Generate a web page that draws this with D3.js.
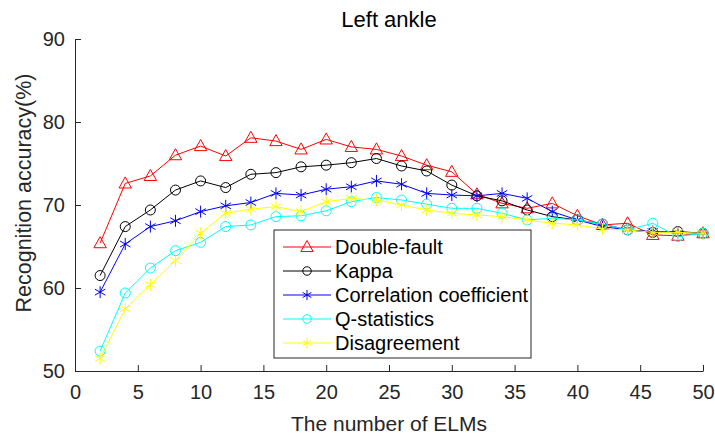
<!DOCTYPE html>
<html>
<head>
<meta charset="utf-8">
<script src="https://cdn.jsdelivr.net/npm/d3@7"></script>
<style>
  body { margin: 0; background: #fff; }
  text { font-family: "Liberation Sans", Arial, Helvetica, sans-serif; }
</style>
</head>
<body>
<script>
var width = 715;
var height = 439;
var margin = {left: 75, right: 12, top: 39, bottom: 68};

var elms = [2, 4, 6, 8, 10, 12, 14, 16, 18, 20, 22, 24, 26, 28, 30, 32, 34, 36, 38, 40, 42, 44, 46, 48, 50];
var doubleFault = [65.4, 72.6, 73.5, 76.0, 77.1, 75.9, 78.1, 77.7, 76.7, 77.9, 77.0, 76.7, 75.9, 74.8, 74.0, 71.3, 70.2, 69.6, 70.2, 68.7, 67.6, 67.8, 66.4, 66.3, 66.6];
var kappa = [61.5, 67.4, 69.4, 71.8, 72.9, 72.1, 73.7, 73.9, 74.6, 74.8, 75.1, 75.6, 74.7, 74.1, 72.4, 71.1, 70.5, 69.4, 68.6, 68.2, 67.7, 67.0, 66.7, 66.8, 66.6];
var correlation = [59.5, 65.3, 67.4, 68.1, 69.2, 69.9, 70.3, 71.4, 71.2, 71.9, 72.2, 72.9, 72.5, 71.4, 71.2, 71.1, 71.4, 70.8, 69.2, 68.2, 67.4, 67.0, 66.8, 66.7, 66.6];
var qStatistics = [52.4, 59.4, 62.4, 64.5, 65.5, 67.4, 67.6, 68.6, 68.7, 69.3, 70.4, 70.9, 70.6, 70.1, 69.6, 69.6, 69.0, 68.2, 68.4, 68.2, 67.7, 67.0, 67.8, 66.2, 66.6];
var disagreement = [51.5, 57.5, 60.4, 63.3, 66.6, 69.0, 69.5, 69.8, 69.2, 70.4, 70.8, 70.6, 70.0, 69.4, 69.0, 68.8, 68.6, 68.2, 67.8, 67.6, 67.1, 67.0, 66.7, 66.7, 66.6];

var seriesNames = ["Double-fault", "Kappa", "Correlation coefficient", "Q-statistics", "Disagreement"];
var seriesColors = ["#ff0000", "#000000", "#0000ff", "#00ffff", "#ffff00"];
var seriesMarkers = ["triangle", "circle", "asterisk", "circle", "asterisk"];
var seriesValues = [doubleFault, kappa, correlation, qStatistics, disagreement];

var xTicks = [0, 5, 10, 15, 20, 25, 30, 35, 40, 45, 50];
var yTicks = [50, 60, 70, 80, 90];

var axisColor = "#262626";

var svg = d3.select("body").append("svg")
	.attr("width", width)
	.attr("height", height);

var x = d3.scaleLinear().domain([0, 50]).range([margin.left, width - margin.right]);
var y = d3.scaleLinear().domain([50, 90]).range([height - margin.bottom, margin.top]);

// axes, ticks pointing inward like matlab
var xAxis = svg.append("g")
	.attr("transform", "translate(0," + y(50) + ")")
	.call(d3.axisBottom(x).tickValues(xTicks).tickSizeInner(-6).tickSizeOuter(0).tickPadding(14));
var yAxis = svg.append("g")
	.attr("transform", "translate(" + x(0) + ",0)")
	.call(d3.axisLeft(y).tickValues(yTicks).tickSizeInner(-6).tickSizeOuter(0).tickPadding(10));

[xAxis, yAxis].forEach(function(g) {
	g.select(".domain").attr("stroke", axisColor).attr("stroke-width", 1);
	g.selectAll(".tick line").attr("stroke", axisColor);
	g.selectAll(".tick text")
		.attr("fill", axisColor)
		.style("font-size", "20px")
		.style("font-family", "'Liberation Sans', Arial, sans-serif");
});

svg.append("text")
	.attr("x", (x(0) + x(50)) / 2)
	.attr("y", 27)
	.attr("text-anchor", "middle")
	.attr("fill", "#000")
	.style("font-size", "22px")
	.text("Left ankle");

svg.append("text")
	.attr("x", (x(0) + x(50)) / 2)
	.attr("y", 431)
	.attr("text-anchor", "middle")
	.attr("fill", axisColor)
	.style("font-size", "21px")
	.text("The number of ELMs");

svg.append("text")
	.attr("transform", "translate(31," + ((y(50) + y(90)) / 2 - 12) + ") rotate(-90)")
	.attr("text-anchor", "middle")
	.attr("fill", axisColor)
	.style("font-size", "21.5px")
	.text("Recognition accuracy(%)");

var drawMarker = function(g, type, color, cx, cy, s) {
	if (type == "triangle") {
		var r = 6.5 * s;
		g.append("path")
			.attr("d", "M" + cx + "," + (cy - r) + "L" + (cx + r * 0.95) + "," + (cy + r * 0.7) + "L" + (cx - r * 0.95) + "," + (cy + r * 0.7) + "Z")
			.attr("fill", "none").attr("stroke", color).attr("stroke-width", 1);
	} else if (type == "circle") {
		g.append("circle")
			.attr("cx", cx).attr("cy", cy).attr("r", 5 * s)
			.attr("fill", "none").attr("stroke", color).attr("stroke-width", 1);
	} else {
		var a = 6 * s;
		var p = "M" + cx + "," + (cy - a) + "L" + cx + "," + (cy + a);
		p += "M" + (cx - a * 0.87) + "," + (cy - a * 0.5) + "L" + (cx + a * 0.87) + "," + (cy + a * 0.5);
		p += "M" + (cx - a * 0.87) + "," + (cy + a * 0.5) + "L" + (cx + a * 0.87) + "," + (cy - a * 0.5);
		g.append("path").attr("d", p)
			.attr("fill", "none").attr("stroke", color).attr("stroke-width", 1);
	}
};

var line = d3.line()
	.x(function(d, i) { return x(elms[i]); })
	.y(function(d) { return y(d); });

var plot = svg.append("g");
seriesValues.forEach(function(vals, k) {
	var g = plot.append("g");
	g.append("path")
		.attr("d", line(vals))
		.attr("fill", "none")
		.attr("stroke", seriesColors[k])
		.attr("stroke-width", 1);
	vals.forEach(function(v, i) {
		drawMarker(g, seriesMarkers[k], seriesColors[k], x(elms[i]), y(v), 1);
	});
});

// legend
var legend = svg.append("g").attr("transform", "translate(274,230)");
legend.append("rect")
	.attr("width", 257).attr("height", 128)
	.attr("fill", "#fff").attr("stroke", axisColor).attr("stroke-width", 1);
seriesNames.forEach(function(name, k) {
	var ly = 17 + k * 24;
	legend.append("line")
		.attr("x1", 9).attr("x2", 57).attr("y1", ly).attr("y2", ly)
		.attr("stroke", seriesColors[k]).attr("stroke-width", 1);
	drawMarker(legend, seriesMarkers[k], seriesColors[k], 33, ly, k == 0 ? 1 : 0.85);
	legend.append("text")
		.attr("x", 61).attr("y", ly)
		.attr("dy", "0.35em")
		.attr("fill", "#000")
		.style("font-size", "20px")
		.text(name);
});
</script>
</body>
</html>
